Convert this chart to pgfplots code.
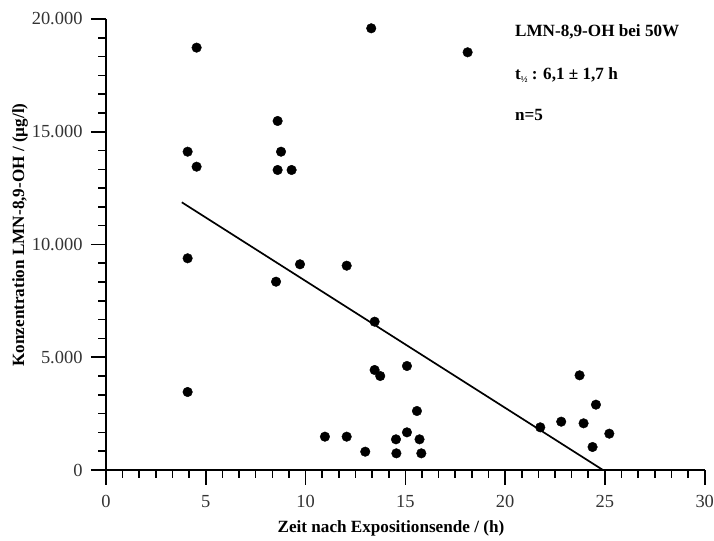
\documentclass[border=0pt]{standalone}
\usepackage{pgfplots}
\pgfplotsset{compat=1.18}
\usepackage{fontspec}
\setmainfont{Liberation Serif}
\begin{document}
\begin{tikzpicture}[x=1bp,y=1bp]
\useasboundingbox (0,0) rectangle (714,541);
\begin{axis}[
  at={(106bp,71bp)}, anchor=south west,
  scale only axis, width=598.7bp, height=451bp,
  xmin=0, xmax=30, ymin=0, ymax=20000,
  scaled y ticks=false,
  axis x line=bottom, axis y line=left,
  axis line style={-, line width=1.7bp},
  xtick={0,5,...,30}, ytick={0,5000,...,20000},
  yticklabels={0,5.000,10.000,15.000,20.000},
  minor x tick num=5, minor y tick num=5,
  tick align=outside,
  major tick length=15bp, minor tick length=8bp,
  every tick/.style={black, line width=1.6bp},
  /pgf/number format/assume math mode=true,
  tick label style={font=\fontsize{18.5}{20}\selectfont, text=black!80},
  xticklabel style={yshift=-7bp},
  yticklabel style={xshift=-5bp},
  clip=false,
  xlabel={Zeit nach Expositionsende / (h)},
  ylabel={Konzentration LMN-8,9-OH / (µg/l)},
  label style={font=\bfseries\fontsize{17.2}{19}\selectfont},
  xlabel style={at={(axis description cs:0.476,-0.1286)}, anchor=center},
  ylabel style={at={(axis description cs:-0.1436,0.521)}, anchor=center, rotate=0},
]
\addplot[only marks, mark=*, mark size=4.8bp, black] coordinates {
(4.09,14115) (4.54,18730) (4.54,13450) (4.09,9388) (4.09,3459)
(8.60,15477) (8.77,14115) (8.60,13304) (9.30,13304) (8.52,8350)
(9.72,9122) (12.06,9060) (10.97,1478) (12.06,1478) (12.99,812)
(13.29,19587) (13.46,6577) (13.46,4435) (13.74,4168) (14.53,1360)
(14.55,739) (15.08,4612) (15.08,1670) (15.58,2616) (15.71,1360)
(15.80,739) (18.12,18523) (21.76,1892) (22.81,2143) (23.73,4198)
(23.93,2070) (24.38,1020) (24.55,2897) (25.22,1611)
};
\addplot[black, line width=1.7bp, no marks] coordinates {(3.8,11870) (24.9,0)};
\node[anchor=west, font=\bfseries\fontsize{17.2}{19}\selectfont, inner sep=0pt] at (rel axis cs:0.683,0.971) {LMN-8,9-OH bei 50W};
\node[anchor=west, font=\bfseries\fontsize{17.2}{19}\selectfont, inner sep=0pt] at (rel axis cs:0.683,0.876) {t\raisebox{-0.4ex}{\fontsize{9}{10}\selectfont ½} : 6,1 ± 1,7 h};
\node[anchor=west, font=\bfseries\fontsize{17.2}{19}\selectfont, inner sep=0pt] at (rel axis cs:0.683,0.787) {n=5};
\end{axis}
\end{tikzpicture}
\end{document}
